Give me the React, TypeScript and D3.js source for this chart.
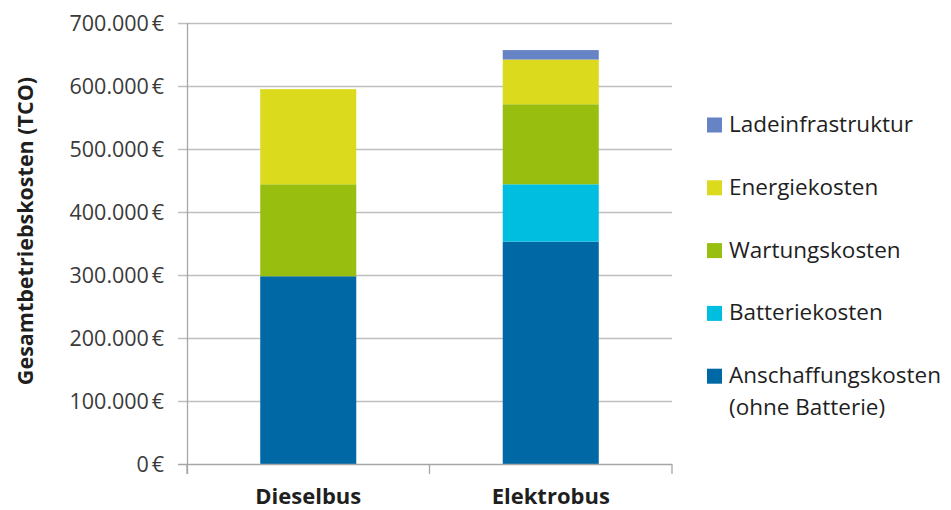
import React from "react";
import * as d3 from "d3";

// Total cost of ownership per bus type, in euros
const categories = ["Dieselbus", "Elektrobus"];
const seriesNames = [
  "Anschaffungskosten",
  "Batteriekosten",
  "Wartungskosten",
  "Energiekosten",
  "Ladeinfrastruktur",
];
const anschaffung = [298000, 353000];
const batterie = [0, 91000];
const wartung = [146000, 127000];
const energie = [151000, 71000];
const ladeinfrastruktur = [0, 15000];
const yTicks = [0, 100000, 200000, 300000, 400000, 500000, 600000, 700000];
const legendLabels = [
  ["Ladeinfrastruktur"],
  ["Energiekosten"],
  ["Wartungskosten"],
  ["Batteriekosten"],
  ["Anschaffungskosten", "(ohne Batterie)"],
];
const legendKeys = [
  "Ladeinfrastruktur",
  "Energiekosten",
  "Wartungskosten",
  "Batteriekosten",
  "Anschaffungskosten",
];

const colors: Record<string, string> = {
  Anschaffungskosten: "#0068A4",
  Batteriekosten: "#00BEE0",
  Wartungskosten: "#98BF0F",
  Energiekosten: "#DCDA1C",
  Ladeinfrastruktur: "#6684C5",
};

const W = 951;
const H = 510;
const FONT = "'Open Sans', 'Liberation Sans', sans-serif";

export default function App() {
  const rows = categories.map((c, i) => ({
    cat: c,
    Anschaffungskosten: anschaffung[i],
    Batteriekosten: batterie[i],
    Wartungskosten: wartung[i],
    Energiekosten: energie[i],
    Ladeinfrastruktur: ladeinfrastruktur[i],
  }));
  const stacked = d3.stack<any>().keys(seriesNames)(rows);

  const x = d3
    .scaleBand<string>()
    .domain(categories)
    .range([187, 672])
    .paddingInner(0.604)
    .paddingOuter(0.302);
  const y = d3.scaleLinear().domain([0, 700000]).range([464, 23]);

  const fmt = (v: number) =>
    d3.format(",")(v).replace(/,/g, ".") + "\u202F€";

  const step = x.step();
  const boundaries = [187, ...categories.map((_, i) => 187 + step * (i + 1))];

  const legendY0 = 132;
  const legendGap = 62.8;

  return (
    <svg
      width={W}
      height={H}
      style={{ position: "absolute", left: 0, top: 0, background: "#fff" }}
      fontFamily={FONT}
    >
      {/* gridlines */}
      {yTicks.slice(1).map((t) => (
        <line
          key={t}
          x1={178}
          x2={672}
          y1={Math.round(y(t)) + 0.5}
          y2={Math.round(y(t)) + 0.5}
          stroke="#BFBFBF"
          strokeWidth={1.3}
        />
      ))}
      {/* y axis */}
      <line x1={187.5} x2={187.5} y1={23} y2={474} stroke="#A6A6A6" strokeWidth={1.3} />
      {/* y tick labels */}
      {yTicks.map((t) => (
        <text
          key={t}
          x={164}
          y={y(t)}
          dy="0.35em"
          textAnchor="end"
          fontSize={21.5}
          fill="#3a3a3a"
        >
          {fmt(t)}
        </text>
      ))}
      {/* bars */}
      {stacked.map((s) =>
        s.map((d: any, i: number) => {
          const h = y(d[0]) - y(d[1]);
          if (h <= 0) return null;
          return (
            <rect
              key={s.key + i}
              x={x(categories[i])}
              y={y(d[1])}
              width={x.bandwidth()}
              height={h}
              fill={colors[s.key]}
            />
          );
        })
      )}
      {/* x axis */}
      <line x1={178} x2={672} y1={464.5} y2={464.5} stroke="#A6A6A6" strokeWidth={1.3} />
      {boundaries.map((b, i) => (
        <line key={i} x1={b} x2={b} y1={464} y2={474} stroke="#A6A6A6" strokeWidth={1.3} />
      ))}
      {categories.map((c) => (
        <text
          key={c}
          x={(x(c) as number) + x.bandwidth() / 2}
          y={504}
          textAnchor="middle"
          fontSize={22}
          fontWeight="bold"
          fill="#1f1f1f"
        >
          {c}
        </text>
      ))}
      {/* y axis title */}
      <text
        transform="translate(33,231) rotate(-90)"
        textAnchor="middle"
        fontSize={21.5}
        fontWeight="bold"
        fill="#1f1f1f"
      >
        Gesamtbetriebskosten (TCO)
      </text>
      {/* legend */}
      {legendKeys.map((k, i) => (
        <g key={k}>
          <rect
            x={707}
            y={legendY0 + i * legendGap - 14.5}
            width={15}
            height={15}
            fill={colors[k]}
          />
          {legendLabels[i].map((line, j) => (
            <text
              key={j}
              x={729}
              y={legendY0 + i * legendGap + j * 32}
              fontSize={22.5}
              fill="#1f1f1f"
            >
              {line}
            </text>
          ))}
        </g>
      ))}
    </svg>
  );
}
